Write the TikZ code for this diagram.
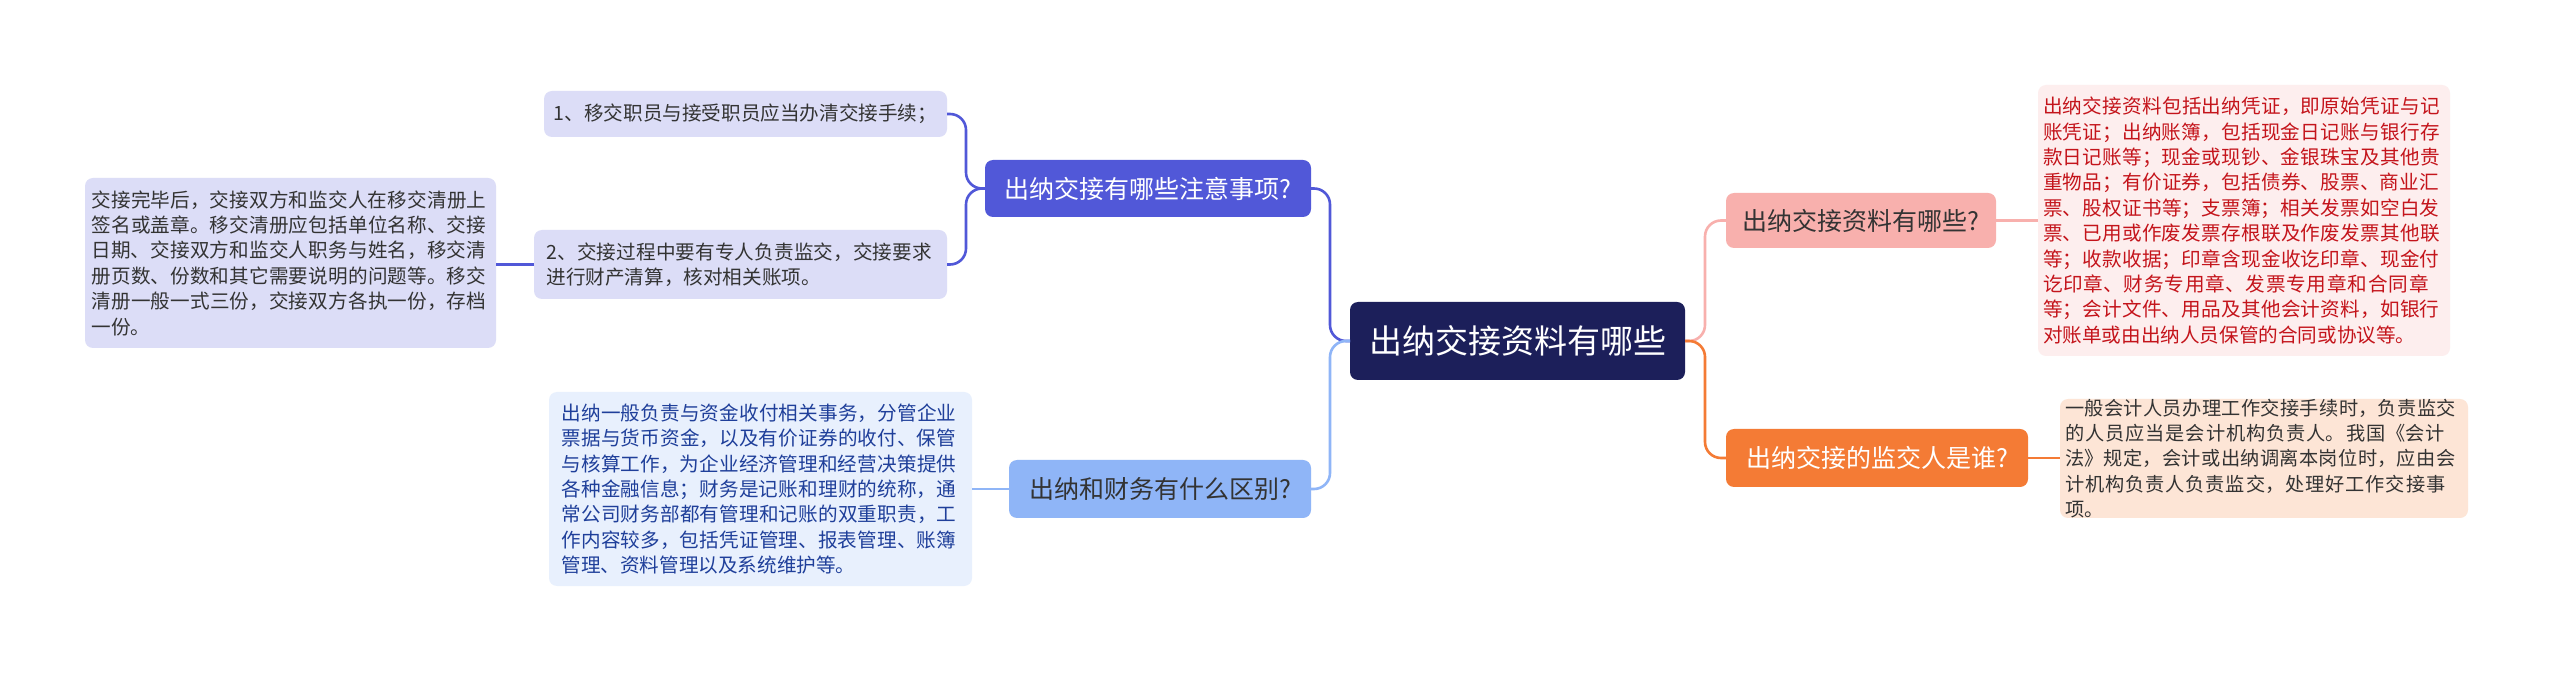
\documentclass[tikz,border=0pt]{standalone}
\usepackage{fontspec}
\setmainfont{Noto Sans CJK SC}
\XeTeXlinebreaklocale "zh"
\XeTeXlinebreakskip=0pt plus 1pt
\begin{document}
\begin{tikzpicture}[x=0.5pt,y=-0.5pt,
  box/.style={rounded corners=4pt,inner sep=0pt,align=left},
  leaf/.style={box,font=\fontsize{9.8pt}{12.7pt}\selectfont},
  lvl/.style={box,font=\fontsize{12.5pt}{15pt}\selectfont,align=center},
  con/.style={line width=1.3pt,rounded corners=8pt}]
\definecolor{navy}{HTML}{1C1F5A}
\definecolor{indi}{HTML}{5158D8}
\definecolor{lindi}{HTML}{DCDDF7}
\definecolor{lblue}{HTML}{8FB5F7}
\definecolor{pblue}{HTML}{E8F0FD}
\definecolor{tblue}{HTML}{1F3F9A}
\definecolor{pink}{HTML}{F8B0AD}
\definecolor{ppink}{HTML}{FDEEEE}
\definecolor{tred}{HTML}{C4141B}
\definecolor{orng}{HTML}{F47B35}
\definecolor{porng}{HTML}{FDE5D6}
\definecolor{txt}{HTML}{333333}
\useasboundingbox[fill=white] (0,0) rectangle (2560,673);
% boxes
\fill[navy,rounded corners=4pt] (1350,302) rectangle (1685,380);
\node[box,text=white,font=\fontsize{16.5pt}{20pt}\selectfont] (c) at (1517.5,341) {出纳交接资料有哪些};
\fill[pink,rounded corners=4pt] (1726,193) rectangle (1996,248);
\node[lvl,text=txt] (r1) at (1861,220.5) {出纳交接资料有哪些?};
\fill[ppink,rounded corners=4pt] (2038,85) rectangle (2450,356);
\node[leaf,text=tred,text width=201pt] (r1l) at (2244,220.5) {出纳交接资料包括出纳凭证，即原始凭证与记账凭证；出纳账簿，包括现金日记账与银行存款日记账等；现金或现钞、金银珠宝及其他贵重物品；有价证券，包括债券、股票、商业汇票、股权证书等；支票簿；相关发票如空白发票、已用或作废发票存根联及作废发票其他联等；收款收据；印章含现金收讫印章、现金付讫印章、财务专用章、发票专用章和合同章等；会计文件、用品及其他会计资料，如银行对账单或由出纳人员保管的合同或协议等。};
\fill[orng,rounded corners=4pt] (1726,429) rectangle (2028,487);
\node[lvl,text=white] (r2) at (1877,458) {出纳交接的监交人是谁?};
\fill[porng,rounded corners=4pt] (2060,399) rectangle (2468,518);
\node[leaf,text=txt,text width=199pt,font=\fontsize{9.6pt}{12.7pt}\selectfont] (r2l) at (2264,458.5) {一般会计人员办理工作交接手续时，负责监交的人员应当是会计机构负责人。我国《会计法》规定，会计或出纳调离本岗位时，应由会计机构负责人负责监交，处理好工作交接事项。};
\fill[indi,rounded corners=4pt] (985,160) rectangle (1311,217);
\node[lvl,text=white] (l1) at (1148,188.5) {出纳交接有哪些注意事项?};
\fill[lindi,rounded corners=4pt] (544,91) rectangle (947,137);
\node[leaf,text=txt] (l1a) at (745.5,114) {1、移交职员与接受职员应当办清交接手续；};
\fill[lindi,rounded corners=4pt] (534,230) rectangle (947,299);
\node[leaf,text=txt,text width=194pt] (l1b) at (740.5,264.5) {2、交接过程中要有专人负责监交，交接要求进行财产清算，核对相关账项。};
\fill[lindi,rounded corners=4pt] (85,178) rectangle (496,348);
\node[leaf,text=txt,text width=199pt] (l1bl) at (290.5,263) {交接完毕后，交接双方和监交人在移交清册上签名或盖章。移交清册应包括单位名称、交接日期、交接双方和监交人职务与姓名，移交清册页数、份数和其它需要说明的问题等。移交清册一般一式三份，交接双方各执一份，存档一份。};
\fill[lblue,rounded corners=4pt] (1009,460) rectangle (1311,518);
\node[lvl,text=txt] (l2) at (1160,489) {出纳和财务有什么区别?};
\fill[pblue,rounded corners=4pt] (549,392) rectangle (972,586);
\node[leaf,text=tblue,text width=199pt] (l2l) at (760.5,489) {出纳一般负责与资金收付相关事务，分管企业票据与货币资金，以及有价证券的收付、保管与核算工作，为企业经济管理和经营决策提供各种金融信息；财务是记账和理财的统称，通常公司财务部都有管理和记账的双重职责，工作内容较多，包括凭证管理、报表管理、账簿管理、资料管理以及系统维护等。};
% connector anchors
\coordinate (cw) at (1350,341); \coordinate (ce) at (1685,341);
\coordinate (l1e) at (1311,188.5); \coordinate (l2e) at (1311,489);
\coordinate (r1w) at (1726,220.5); \coordinate (r2w) at (1726,458);
\coordinate (l1w) at (985,188.5);
\coordinate (l1ae) at (947,114); \coordinate (l1be) at (947,264.5);
\coordinate (l1bw) at (534,264.5); \coordinate (l1ble) at (496,264.5);
\coordinate (r1e) at (1996,220.5); \coordinate (r1lw) at (2038,220.5);
\coordinate (r2e) at (2028,458); \coordinate (r2lw) at (2060,458);
\coordinate (l2w) at (1009,489); \coordinate (l2le) at (972,489);
\draw[con,indi] (cw) -- ++(-20,0) |- (l1e);
\draw[con,lblue] (cw) -- ++(-20,0) |- (l2e);
\draw[con,pink] (ce) -- ++(20,0) |- (r1w);
\draw[con,orng] (ce) -- ++(20,0) |- (r2w);
\draw[con,indi] (l1w) -- ++(-19,0) |- (l1ae);
\draw[con,indi] (l1w) -- ++(-19,0) |- (l1be);
\draw[con,indi] (l1bw) -- (l1ble);
\draw[con,pink] (r1e) -- (r1lw);
\draw[con,orng] (r2e) -- (r2lw);
\draw[con,lblue] (l2w) -- (l2le);
\end{tikzpicture}
\end{document}
